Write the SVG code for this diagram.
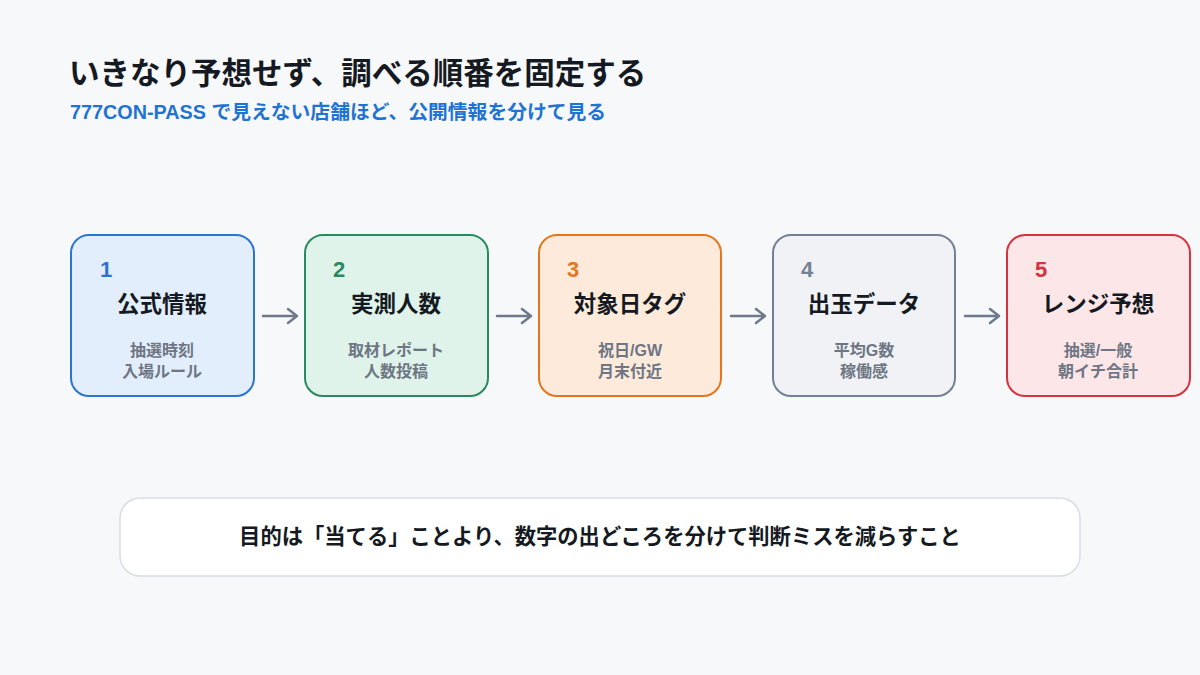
<svg xmlns="http://www.w3.org/2000/svg" width="1200" height="675" viewBox="0 0 1200 675">
<defs>
<style>
text{font-family:"Liberation Sans","Noto Sans CJK JP",sans-serif;font-weight:700}
.title{font-size:30.5px;fill:#151a22}
.sub{font-size:19.8px;fill:#1f73d3}
.box{stroke-width:2}
.num{font-size:22px}
.name{font-size:22.5px;fill:#151a22;text-anchor:middle}
.det{font-size:16px;fill:#6e7684;text-anchor:middle}
.conn{stroke:#6e7a8c;stroke-width:2.5;fill:none;stroke-linecap:round;stroke-linejoin:round}
.foot{font-size:21.3px;fill:#151a22;text-anchor:middle}
</style>
</defs>
<rect width="1200" height="675" fill="#f7f8fa"/>
<text class="title" x="69" y="84">いきなり予想せず、調べる順番を固定する</text>
<text class="sub" x="70" y="119">777CON-PASS で見えない店舗ほど、公開情報を分けて見る</text>

<g id="node1">
<rect class="box" x="71" y="235" width="183" height="161" rx="18" fill="#e3eefc" stroke="#2a75d0"/>
<text class="num" x="100" y="277" fill="#2a75d0">1</text>
<text class="name" x="162" y="312">公式情報</text>
<text class="det" x="162" y="356">抽選時刻</text>
<text class="det" x="162" y="377">入場ルール</text>
</g>
<g id="node2">
<rect class="box" x="305" y="235" width="183" height="161" rx="18" fill="#dff3ea" stroke="#2a8a5f"/>
<text class="num" x="333" y="277" fill="#2a8a5f">2</text>
<text class="name" x="396" y="312">実測人数</text>
<text class="det" x="396" y="356">取材レポート</text>
<text class="det" x="396" y="377">人数投稿</text>
</g>
<g id="node3">
<rect class="box" x="539" y="235" width="182" height="161" rx="18" fill="#fdeadb" stroke="#e8751a"/>
<text class="num" x="567" y="277" fill="#e8751a">3</text>
<text class="name" x="630" y="312">対象日タグ</text>
<text class="det" x="630" y="356">祝日/GW</text>
<text class="det" x="630" y="377">月末付近</text>
</g>
<g id="node4">
<rect class="box" x="773" y="235" width="182" height="161" rx="18" fill="#f0f2f5" stroke="#748094"/>
<text class="num" x="801" y="277" fill="#748094">4</text>
<text class="name" x="864" y="312">出玉データ</text>
<text class="det" x="864" y="356">平均G数</text>
<text class="det" x="864" y="377">稼働感</text>
</g>
<g id="node5">
<rect class="box" x="1007" y="235" width="183" height="161" rx="18" fill="#fde6e8" stroke="#d5343e"/>
<text class="num" x="1035" y="277" fill="#d5343e">5</text>
<text class="name" x="1098" y="312">レンジ予想</text>
<text class="det" x="1098" y="356">抽選/一般</text>
<text class="det" x="1098" y="377">朝イチ合計</text>
</g>

<g id="connectors">
<path class="conn" d="M263 316H297M288 309L297 316L288 323"/>
<path class="conn" d="M497 316H531M522 309L531 316L522 323"/>
<path class="conn" d="M731 316H765M756 309L765 316L756 323"/>
<path class="conn" d="M965 316H999M990 309L999 316L990 323"/>
</g>

<g id="footer">
<rect x="120" y="498" width="960" height="78" rx="20" fill="#ffffff" stroke="#d9dde3" stroke-width="1.5"/>
<text class="foot" x="600" y="544">目的は「当てる」ことより、数字の出どころを分けて判断ミスを減らすこと</text>
</g>
</svg>
